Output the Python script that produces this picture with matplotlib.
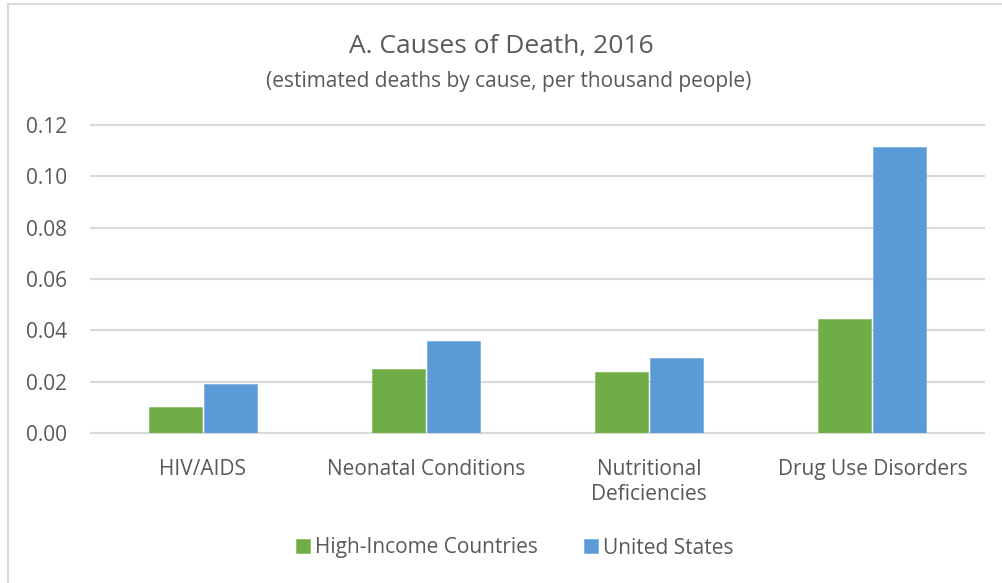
import matplotlib.pyplot as plt
import matplotlib.patches as patches
import numpy as np

plt.rcParams['font.family'] = ['Open Sans', 'DejaVu Sans']

# data
causes = ['HIV/AIDS', 'Neonatal Conditions', 'Nutritional\nDeficiencies', 'Drug Use Disorders']
high_income = [0.0101, 0.0250, 0.0236, 0.0443]
united_states = [0.0190, 0.0358, 0.0293, 0.1114]
yticks = [0.00, 0.02, 0.04, 0.06, 0.08, 0.10, 0.12]

text_col = '#595959'
green = '#70AD47'
blue = '#5B9BD5'

fig = plt.figure(figsize=(10.02, 5.83), dpi=100)
ax = fig.add_axes([91/1002, 1-433/583, 893/1002, 308/583])

x = np.arange(len(causes))
w = 0.238
ax.bar(x - w/2 - 0.004, high_income, w, color=green, edgecolor='#8fc06d', linewidth=0.6, zorder=3)
ax.bar(x + w/2 + 0.004, united_states, w, color=blue, edgecolor='#7fb2e0', linewidth=0.6, zorder=3)

ax.set_xlim(-0.5, len(causes) - 0.5)
ax.set_ylim(0, 0.12)
ax.set_yticks(yticks)
ax.set_yticklabels(['%.2f' % v for v in yticks])
ax.set_xticks(x)
ax.set_xticklabels(causes, linespacing=1.25)
ax.tick_params(axis='both', length=0, colors=text_col, labelsize=15)
ax.tick_params(axis='y', pad=17)
ax.tick_params(axis='x', pad=19)
for lbl in ax.get_xticklabels() + ax.get_yticklabels():
    lbl.set_color(text_col)

ax.grid(axis='y', color='#D9D9D9', linewidth=1.5, zorder=0)
for g in ax.get_ygridlines():
    g.set_clip_on(False)
for s in ax.spines.values():
    s.set_visible(False)

fig.text(0.5, 1-46/583, 'A. Causes of Death, 2016', ha='center', va='center', fontsize=19, color=text_col)
fig.text(509/1002, 1-81/583, '(estimated deaths by cause, per thousand people)', ha='center', va='center', fontsize=15, color=text_col)

leg = ax.legend(['High-Income Countries', 'United States'], loc='center', bbox_to_anchor=(515/1002, 1-548/583),
                bbox_transform=fig.transFigure, ncol=2, frameon=False, fontsize=15,
                handlelength=0.68, handleheight=0.68, handletextpad=0.25, columnspacing=2.2)
for t in leg.get_texts():
    t.set_color(text_col)

# chart border
fig.patches.append(patches.Rectangle((8/1002, -0.05), 1.1, 1-4/583 + 0.05, transform=fig.transFigure,
                                     fill=False, edgecolor='#D9D9D9', linewidth=1.5))

fig.savefig('out.png', dpi=100)
